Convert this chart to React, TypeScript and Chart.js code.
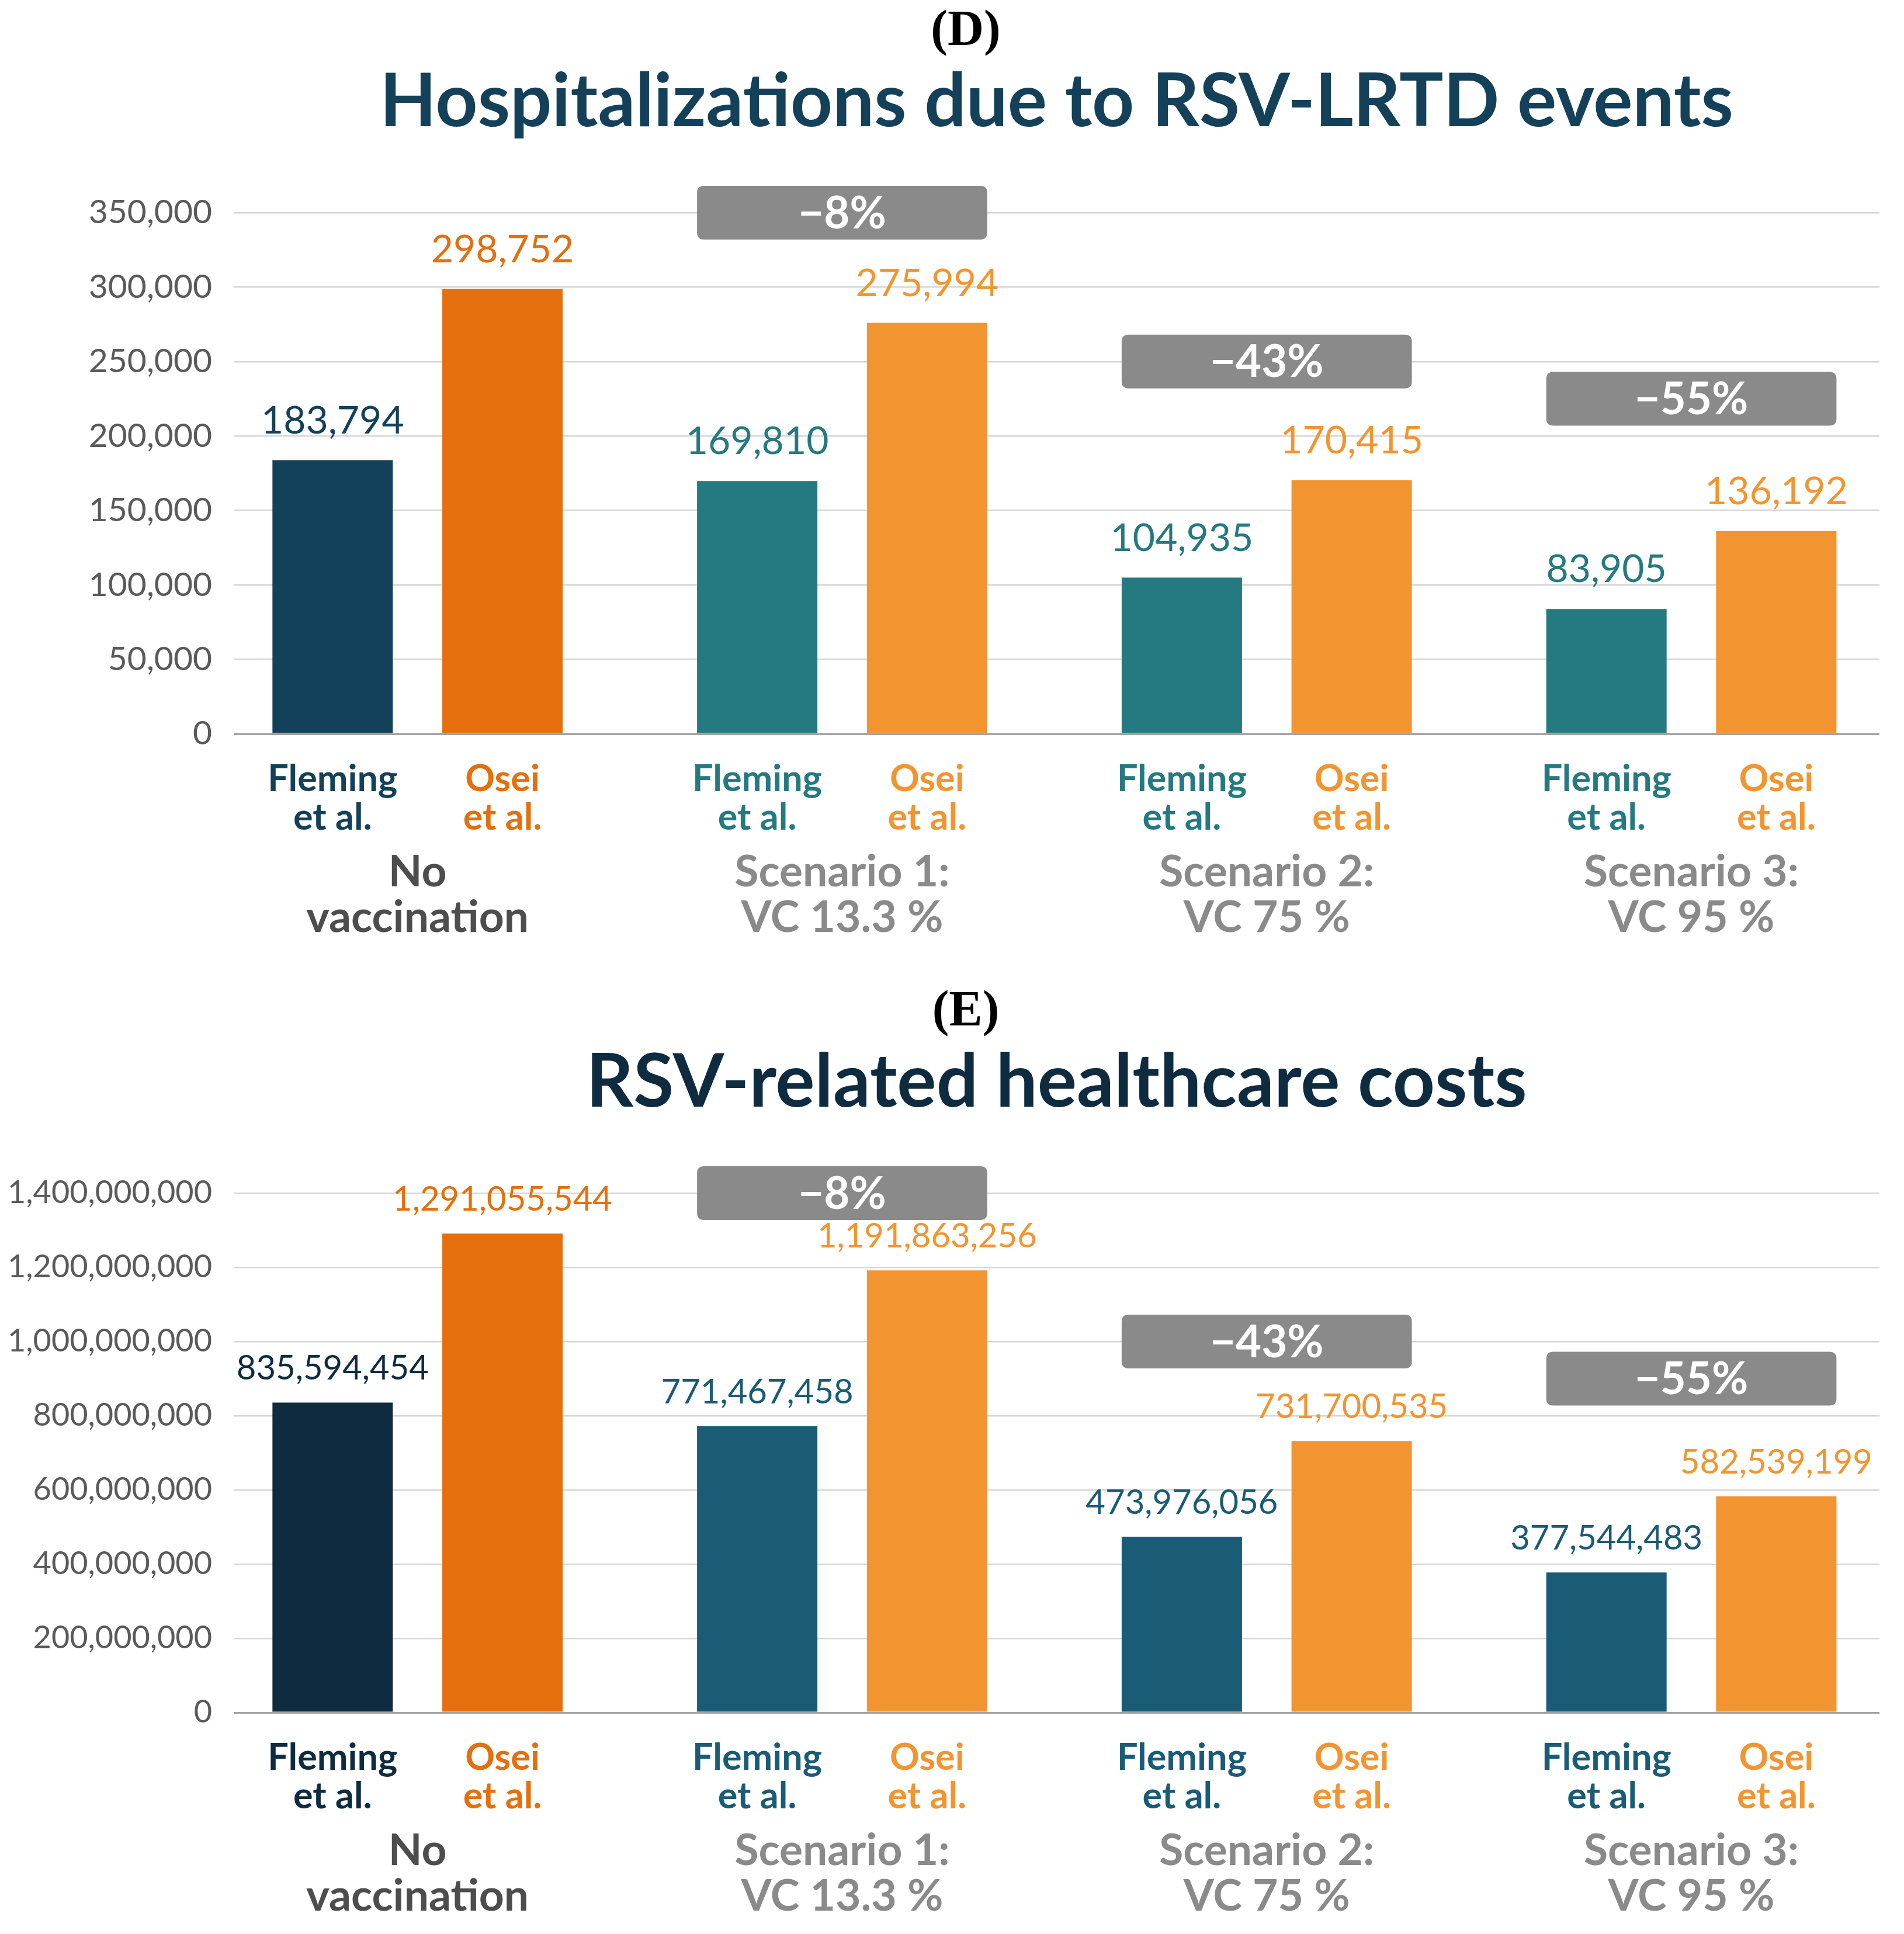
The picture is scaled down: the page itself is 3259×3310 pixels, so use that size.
import React, { useEffect, useRef } from 'react';
import { Chart, registerables } from 'chart.js';

Chart.register(...registerables);

// ---------- shared categories ----------
const groupLabels: string[][] = [
  ['No', 'vaccination'],
  ['Scenario 1:', 'VC 13.3 %'],
  ['Scenario 2:', 'VC 75 %'],
  ['Scenario 3:', 'VC 95 %'],
];
const studyLabels: string[][] = [
  ['Fleming', 'et al.'],
  ['Osei', 'et al.'],
];
const badgeTexts = ['\u22128%', '\u221243%', '\u221255%'];

// ---------- (D) hospitalizations ----------
const hospFleming = [183794, 169810, 104935, 83905];
const hospOsei = [298752, 275994, 170415, 136192];
const hospBadgeLevels = [350000, 250000, 225000];
const hospMax = 350000;
const hospStep = 50000;

// ---------- (E) healthcare costs ----------
const costFleming = [835594454, 771467458, 473976056, 377544483];
const costOsei = [1291055544, 1191863256, 731700535, 582539199];
const costBadgeLevels = [1400000000, 1000000000, 900000000];
const costMax = 1400000000;
const costStep = 200000000;

// ---------- layout / style ----------
const W = 3259;
const STUDY_OFFSET = 0.2;
const X_MIN = -0.433;
const X_MAX = 3.443;
const FONT = "Lato, 'Noto Sans', sans-serif";
const SERIF = "'Liberation Serif', 'Times New Roman', serif";

type Spec = {
  tag: string;
  title: string;
  titleColor: string;
  fleming: number[];
  osei: number[];
  flemingColors: string[];
  oseiColors: string[];
  yMax: number;
  yStep: number;
  badgeLevels: number[];
  tickFont: number;
  valueFont: number;
  valueGap: number;
  height: number;
  bottomPad: number;
};

const fmt = (v: number) => Number(v).toLocaleString('en-US');

function Panel({ spec }: { spec: Spec }) {
  const ref = useRef<HTMLCanvasElement | null>(null);
  useEffect(() => {
    const canvas = ref.current;
    if (!canvas) return;
    const barPositions = spec.fleming.flatMap((_, g) => [g - STUDY_OFFSET, g + STUDY_OFFSET]);
    const colorFor = (i: number) =>
      i % 2 === 0 ? spec.flemingColors[Math.floor(i / 2)] : spec.oseiColors[Math.floor(i / 2)];

    const overlay = {
      id: 'overlay',
      afterDraw(chart: any) {
        const ctx = chart.ctx as CanvasRenderingContext2D;
        const m0 = chart.getDatasetMeta(0).data;
        const m1 = chart.getDatasetMeta(1).data;
        const yScale = chart.scales.y;
        ctx.save();
        // panel tag
        ctx.fillStyle = '#000000';
        ctx.font = `bold 86px ${SERIF}`;
        ctx.textAlign = 'center';
        ctx.textBaseline = 'alphabetic';
        ctx.fillText(spec.tag, 1653, 77);
        // badges
        for (let g = 1; g < spec.fleming.length; g++) {
          const a = m0[g];
          const b = m1[g];
          const left = a.x - a.width / 2;
          const right = b.x + b.width / 2;
          const yc = yScale.getPixelForValue(spec.badgeLevels[g - 1]);
          const h = 92;
          const r = 12;
          const top = yc - h / 2;
          ctx.beginPath();
          ctx.moveTo(left + r, top);
          ctx.lineTo(right - r, top);
          ctx.quadraticCurveTo(right, top, right, top + r);
          ctx.lineTo(right, top + h - r);
          ctx.quadraticCurveTo(right, top + h, right - r, top + h);
          ctx.lineTo(left + r, top + h);
          ctx.quadraticCurveTo(left, top + h, left, top + h - r);
          ctx.lineTo(left, top + r);
          ctx.quadraticCurveTo(left, top, left + r, top);
          ctx.closePath();
          ctx.fillStyle = '#8a8a8a';
          ctx.fill();
          ctx.fillStyle = '#ffffff';
          ctx.font = `bold 76px ${FONT}`;
          ctx.textAlign = 'center';
          ctx.textBaseline = 'middle';
          ctx.fillText(badgeTexts[g - 1], (left + right) / 2, yc + 2);
        }
        // value labels
        ctx.font = `${spec.valueFont}px ${FONT}`;
        ctx.textAlign = 'center';
        ctx.textBaseline = 'alphabetic';
        [spec.fleming, spec.osei].forEach((vals, d) => {
          const meta = d === 0 ? m0 : m1;
          vals.forEach((v, g) => {
            const el = meta[g];
            ctx.fillStyle = d === 0 ? spec.flemingColors[g] : spec.oseiColors[g];
            ctx.fillText(fmt(v), el.x, el.y - spec.valueGap);
          });
        });
        ctx.restore();
      },
    };

    const chart = new Chart(canvas, {
      type: 'bar',
      data: {
        datasets: [
          {
            label: 'Fleming et al.',
            data: spec.fleming.map((v, g) => ({ x: g - STUDY_OFFSET, y: v })),
            backgroundColor: spec.flemingColors,
            grouped: false,
            barPercentage: 0.9,
            categoryPercentage: 0.8,
            maxBarThickness: 206,
          } as any,
          {
            label: 'Osei et al.',
            data: spec.osei.map((v, g) => ({ x: g + STUDY_OFFSET, y: v })),
            backgroundColor: spec.oseiColors,
            grouped: false,
            barPercentage: 0.9,
            categoryPercentage: 0.8,
            maxBarThickness: 206,
          } as any,
        ],
      },
      options: {
        animation: false,
        responsive: false,
        devicePixelRatio: 1,
        layout: { padding: { left: 0, right: 42, top: 0, bottom: spec.bottomPad } },
        plugins: {
          legend: { display: false },
          tooltip: { enabled: false },
          title: {
            display: true,
            text: spec.title,
            color: spec.titleColor,
            fullSize: false,
            font: { family: FONT, size: 126, weight: 'bold', lineHeight: 1 },
            padding: { top: 112, bottom: 126 },
          },
        } as any,
        scales: {
          x: {
            type: 'linear',
            min: X_MIN,
            max: X_MAX,
            bounds: 'data',
            offset: false,
            weight: 0,
            grid: { display: false, offset: false },
            border: { display: false },
            afterBuildTicks: (s: any) => {
              s.ticks = barPositions.map((v) => ({ value: v }));
            },
            afterFit: (s: any) => {
              s.height = 170;
            },
            ticks: {
              autoSkip: false,
              maxRotation: 0,
              minRotation: 0,
              padding: 37,
              callback: (_v: any, i: number) => studyLabels[i % 2],
              color: (ctx: any) => colorFor(ctx.index),
              font: { family: FONT, size: 63, weight: 'bold', lineHeight: 1.04 },
            },
          } as any,
          x2: {
            type: 'linear',
            position: 'bottom',
            min: X_MIN,
            max: X_MAX,
            bounds: 'data',
            offset: false,
            weight: 1,
            grid: { display: false, offset: false },
            border: { display: false },
            afterBuildTicks: (s: any) => {
              s.ticks = groupLabels.map((_, g) => ({ value: g }));
            },
            afterFit: (s: any) => {
              s.height = 190;
            },
            ticks: {
              autoSkip: false,
              maxRotation: 0,
              minRotation: 0,
              padding: 19,
              callback: (_v: any, i: number) => groupLabels[i],
              color: (ctx: any) => (ctx.index === 0 ? '#4d4d4d' : '#8a8a8a'),
              font: { family: FONT, size: 75, weight: 'bold', lineHeight: 1.05 },
            },
          } as any,
          y: {
            type: 'linear',
            min: 0,
            max: spec.yMax,
            border: { display: false },
            grid: {
              drawTicks: false,
              color: (ctx: any) => (ctx.tick && ctx.tick.value === 0 ? '#a3a3a3' : '#d6d6d6'),
              lineWidth: (ctx: any) => (ctx.tick && ctx.tick.value === 0 ? 3 : 2.5),
            },
            afterFit: (s: any) => {
              s.width = 400;
            },
            ticks: {
              stepSize: spec.yStep,
              padding: 37,
              color: '#5a5a5a',
              font: { family: FONT, size: spec.tickFont },
              callback: (v: any) => fmt(Number(v)),
            },
          } as any,
        },
      },
      plugins: [overlay],
    });
    return () => chart.destroy();
  }, [spec]);
  return (
    <canvas
      ref={ref}
      width={W}
      height={spec.height}
      style={{ display: 'block', width: W + 'px', height: spec.height + 'px' }}
    />
  );
}

const hospSpec: Spec = {
  tag: '(D)',
  title: 'Hospitalizations due to RSV-LRTD events',
  titleColor: '#144159',
  fleming: hospFleming,
  osei: hospOsei,
  flemingColors: ['#134159', '#247a80', '#247a80', '#247a80'],
  oseiColors: ['#e46f0c', '#f29530', '#f29530', '#f29530'],
  yMax: hospMax,
  yStep: hospStep,
  badgeLevels: hospBadgeLevels,
  tickFont: 57,
  valueFont: 66,
  valueGap: 46,
  height: 1678,
  bottomPad: 62,
};

const costSpec: Spec = {
  tag: '(E)',
  title: 'RSV-related healthcare costs',
  titleColor: '#0e2b3f',
  fleming: costFleming,
  osei: costOsei,
  flemingColors: ['#0e2b3f', '#1a5b76', '#1a5b76', '#1a5b76'],
  oseiColors: ['#e46f0c', '#f29530', '#f29530', '#f29530'],
  yMax: costMax,
  yStep: costStep,
  badgeLevels: costBadgeLevels,
  tickFont: 54,
  valueFont: 58,
  valueGap: 39,
  height: 1632,
  bottomPad: 19,
};

export default function App() {
  return (
    <div
      style={{
        position: 'absolute',
        top: 0,
        left: 0,
        width: W + 'px',
        height: '3310px',
        overflow: 'hidden',
        background: '#ffffff',
      }}
    >
      <Panel spec={hospSpec} />
      <Panel spec={costSpec} />
    </div>
  );
}
